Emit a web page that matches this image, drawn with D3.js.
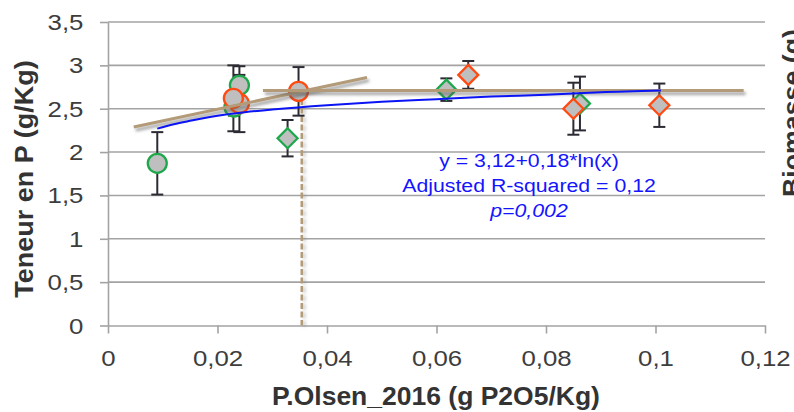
<!DOCTYPE html>
<html><head><meta charset="utf-8">
<script src="https://cdn.jsdelivr.net/npm/d3@7/dist/d3.min.js"></script>
<style>
html,body{margin:0;padding:0;background:#fff;}
svg{display:block;font-family:"Liberation Sans",Arial,sans-serif;}
</style></head>
<body><svg id="c" width="794" height="412"></svg>
<script>
// ---- data ----
const xTicks = [0, 0.02, 0.04, 0.06, 0.08, 0.1, 0.12];
const xTickLabels = ["0", "0,02", "0,04", "0,06", "0,08", "0,1", "0,12"];
const yTicks = [0, 0.5, 1, 1.5, 2, 2.5, 3, 3.5];
const yTickLabels = ["0", "0,5", "1", "1,5", "2", "2,5", "3", "3,5"];

// green circles
const gcX = [0.009, 0.0230, 0.0240];
const gcY = [1.87, 2.52, 2.77];
const gcErr = [0.36, 0.10, 0.22];
// orange circles
const ocX = [0.0240, 0.0229, 0.0348];
const ocY = [2.56, 2.62, 2.70];
const ocErr = [0.33, 0.38, 0.28];
// green diamonds
const gdX = [0.0328, 0.0618, 0.0862];
const gdY = [2.16, 2.72, 2.56];
const gdErr = [0.21, 0.13, 0.31];
// orange diamonds
const odX = [0.0658, 0.0850, 0.1007];
const odY = [2.89, 2.50, 2.54];
const odErr = [0.16, 0.30, 0.25];

// fitted log curve
const fitX = [0.009, 0.012, 0.015, 0.02, 0.025, 0.03, 0.04, 0.05, 0.06, 0.07, 0.08, 0.09, 0.101];
const fitY = [2.27, 2.32, 2.36, 2.42, 2.46, 2.49, 2.54, 2.58, 2.61, 2.64, 2.66, 2.69, 2.71];
// segmented regression (brown)
const seg1X = [0.0047, 0.0473];
const seg1Y = [2.29, 2.86];
const seg2X = [0.0283, 0.1161];
const seg2Y = [2.71, 2.71];
const breakX = [0.0354, 0.0354];
const breakY = [2.71, 0];

const eqLines = ["y = 3,12+0,18*ln(x)", "Adjusted R-squared = 0,12", "p=0,002"];
const xTitle = "P.Olsen_2016 (g P2O5/Kg)";
const yTitle = "Teneur en P (g/Kg)";
const rightTitle = "Biomasse (g)";

// ---- drawing ----
const svg = d3.select("#c");
const x = d3.scaleLinear().domain([0, 0.12]).range([108, 765]);
const y = d3.scaleLinear().domain([0, 3.5]).range([325.5, 22]);

const defs = svg.append("defs");
const f = defs.append("filter").attr("id", "sh").attr("filterUnits", "userSpaceOnUse")
  .attr("x", 0).attr("y", 0).attr("width", 794).attr("height", 412);
f.append("feDropShadow").attr("dx", 2).attr("dy", 3).attr("stdDeviation", 1.8)
  .attr("flood-color", "#555").attr("flood-opacity", 0.55);
const f2 = defs.append("filter").attr("id", "sh2").attr("filterUnits", "userSpaceOnUse")
  .attr("x", 0).attr("y", 0).attr("width", 794).attr("height", 412);
f2.append("feDropShadow").attr("dx", 2.5).attr("dy", 1).attr("stdDeviation", 1.5)
  .attr("flood-color", "#777").attr("flood-opacity", 0.4);

const gridC = "#a3a3a3";
// gridlines
svg.append("g").selectAll("line").data(yTicks.filter(d => d > 0)).join("line")
  .attr("x1", x(0)).attr("x2", x(0.12))
  .attr("y1", d => y(d)).attr("y2", d => y(d))
  .attr("stroke", gridC).attr("stroke-width", 1.6);

// axes
const xa = svg.append("g").attr("transform", `translate(0,${y(0)})`)
  .call(d3.axisBottom(x).tickValues(xTicks).tickFormat((d, i) => xTickLabels[i]).tickSize(8).tickSizeOuter(0));
const ya = svg.append("g").attr("transform", `translate(${x(0)},0)`)
  .call(d3.axisLeft(y).tickValues(yTicks).tickFormat((d, i) => yTickLabels[i]).tickSize(8).tickSizeOuter(0));
[xa, ya].forEach(a => {
  a.select(".domain").attr("stroke", gridC).attr("stroke-width", 1.6);
  a.selectAll(".tick line").attr("stroke", gridC).attr("stroke-width", 1.6);
  a.selectAll("text").attr("font-family", "Liberation Sans, Arial, sans-serif")
    .attr("font-size", 21.5).attr("fill", "#3d3d3d");
});
xa.selectAll("text").attr("y", 25).attr("dy", "0.71em").attr("transform", "scale(1.2,1)");
ya.selectAll("text").attr("x", -20.5).attr("dy", "0.35em").attr("transform", "scale(1.2,1)");

// vertical dashed breakpoint line
const line = d3.line().x(d => x(d[0])).y(d => y(d[1]));
svg.append("path").datum(d3.zip(breakX, breakY)).attr("d", line)
  .attr("fill", "none").attr("stroke", "#b39b79").attr("stroke-width", 2.6)
  .attr("stroke-dasharray", "6,2.5").attr("filter", "url(#sh2)");

// error bars + markers
const series = [
  {xs: gcX, ys: gcY, es: gcErr, shape: "circle", col: "#1ea84c"},
  {xs: gdX, ys: gdY, es: gdErr, shape: "diamond", col: "#1ea84c"},
  {xs: ocX, ys: ocY, es: ocErr, shape: "circle", col: "#ff4a12"},
  {xs: odX, ys: odY, es: odErr, shape: "diamond", col: "#ff4a12"}
];
const eg = svg.append("g");
series.forEach(s => {
  s.xs.forEach((xv, i) => {
    const cx = x(xv), top = y(s.ys[i] + s.es[i]), bot = y(s.ys[i] - s.es[i]);
    eg.append("line").attr("x1", cx).attr("x2", cx).attr("y1", top).attr("y2", bot)
      .attr("stroke", "#2b2b33").attr("stroke-width", 2);
    [top, bot].forEach(yy => eg.append("line").attr("x1", cx - 6).attr("x2", cx + 6)
      .attr("y1", yy).attr("y2", yy).attr("stroke", "#2b2b33").attr("stroke-width", 2));
  });
});
const mg = svg.append("g");
series.forEach(s => {
  s.xs.forEach((xv, i) => {
    const cx = x(xv), cy = y(s.ys[i]);
    if (s.shape === "circle") {
      mg.append("circle").attr("cx", cx).attr("cy", cy).attr("r", 9.5)
        .attr("fill", "#bfbfbf").attr("stroke", s.col).attr("stroke-width", 2.3);
    } else {
      const h = 10;
      mg.append("path").attr("d", `M${cx},${cy - h}L${cx + h},${cy}L${cx},${cy + h}L${cx - h},${cy}Z`)
        .attr("fill", "#bfbfbf").attr("stroke", s.col).attr("stroke-width", 2.3);
    }
  });
});

// brown segmented regression lines
[[seg1X, seg1Y], [seg2X, seg2Y]].forEach(([xs, ys]) => {
  svg.append("path").datum(d3.zip(xs, ys)).attr("d", line)
    .attr("fill", "none").attr("stroke", "#b39b79").attr("stroke-width", 3)
    .attr("filter", "url(#sh)");
});

// blue fitted curve
svg.append("path").datum(d3.zip(fitX, fitY))
  .attr("d", d3.line().x(d => x(d[0])).y(d => y(d[1])).curve(d3.curveMonotoneX))
  .attr("fill", "none").attr("stroke", "#0a14f5").attr("stroke-width", 2);

// equation text
const eqY = [166.5, 191.5, 216.5];
eqLines.forEach((t, i) => {
  svg.append("text").attr("transform", `translate(529,${eqY[i]}) scale(1.12,1)`)
    .attr("text-anchor", "middle").attr("font-size", 19)
    .attr("font-style", i === 2 ? "italic" : "normal")
    .attr("fill", "#1414ff").text(t);
});

// axis titles
svg.append("text").attr("transform", "translate(436,405) scale(1.06,1)")
  .attr("text-anchor", "middle").attr("font-size", 25).attr("font-weight", "bold")
  .attr("fill", "#333").text(xTitle);
svg.append("text").attr("transform", "translate(33,179) rotate(-90) scale(1.08,1)")
  .attr("text-anchor", "middle").attr("font-size", 25).attr("font-weight", "bold")
  .attr("fill", "#333").text(yTitle);
svg.append("text").attr("transform", "translate(801,197) rotate(-90) scale(1.07,1)")
  .attr("text-anchor", "start").attr("font-size", 25).attr("font-weight", "bold")
  .attr("fill", "#333").text(rightTitle);
</script></body></html>
